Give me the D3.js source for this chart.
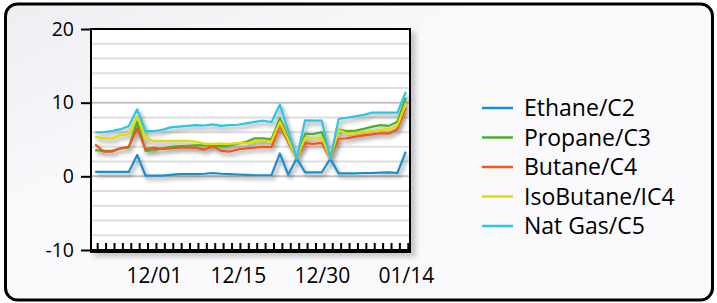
<!DOCTYPE html>
<html>
<head>
<meta charset="utf-8">
<style>
  body { margin: 0; background: #fff; }
  text { font-family: "Open Sans", sans-serif; fill: #000; }
</style>
</head>
<body>
<div id="chart"></div>
<script src="https://d3js.org/d3.v7.min.js"></script>
<script>
// trading days shown on the x axis
const dates = ["11/19","11/20","11/21","11/24","11/25","11/26","11/28","12/01","12/02","12/03",
  "12/04","12/05","12/08","12/09","12/10","12/11","12/12","12/15","12/16","12/17",
  "12/18","12/19","12/22","12/23","12/24","12/26","12/29","12/30","12/31","01/02",
  "01/05","01/06","01/07","01/08","01/09","01/12","01/13","01/14"];
const tickLabels = ["12/01", "12/15", "12/30", "01/14"];
const yTicks = [-10, 0, 10, 20];

const seriesNames = ["Ethane/C2", "Propane/C3", "Butane/C4", "IsoButane/IC4", "Nat Gas/C5"];
const seriesColors = ["#1b8ecb", "#4eae2c", "#f0561e", "#dede00", "#2ac6e4"];

const ethane = [0.6,0.6,0.6,0.6,0.6,2.9,0.1,0.1,0.1,0.2,0.3,0.3,0.3,0.35,0.45,0.35,0.3,0.25,0.2,0.15,
  0.15,0.15,3.1,0.2,2.45,0.55,0.55,0.55,2.4,0.4,0.4,0.4,0.45,0.45,0.5,0.55,0.45,3.35];
const propane = [3.55,3.45,3.45,3.8,3.9,7.4,3.45,3.55,3.8,4.0,4.1,4.15,4.2,4.25,4.1,4.1,4.2,4.45,4.7,5.15,
  5.15,5.05,7.9,5.1,2.45,5.75,5.75,6.0,2.4,6.35,6.15,6.2,6.45,6.75,6.95,6.85,7.4,10.7];
const butane = [4.35,3.35,3.35,3.8,4.0,6.5,3.7,3.9,3.7,3.8,3.9,3.9,3.9,3.6,4.1,3.45,3.35,3.65,3.8,3.9,
  4.0,3.95,6.9,4.6,2.45,4.5,4.4,4.55,2.4,5.1,5.15,5.4,5.55,5.7,5.85,5.8,6.4,9.3];
const isobutane = [5.4,5.15,5.15,5.6,5.7,8.1,5.15,4.8,4.8,4.8,4.8,4.8,4.7,4.4,4.4,4.45,4.4,4.5,4.5,4.7,
  4.85,4.75,7.4,4.9,2.45,5.2,5.15,5.3,2.4,6.3,5.8,5.9,6.05,6.15,6.3,6.4,6.9,9.9];
const natgas = [5.95,6.0,6.15,6.4,6.8,9.1,6.15,6.15,6.3,6.65,6.75,6.85,6.95,6.9,7.05,6.85,6.95,7.0,7.2,7.4,
  7.55,7.35,9.75,6.2,2.45,7.6,7.55,7.55,2.4,7.8,7.95,8.15,8.35,8.65,8.65,8.65,8.65,11.45];

const allSeries = [ethane, propane, butane, isobutane, natgas];

const W = 717, H = 303;
const plot = {left: 91, top: 29, right: 410, bottom: 250};

const svg = d3.select("#chart").append("svg").attr("width", W).attr("height", H);
const defs = svg.append("defs");

const bg = defs.append("linearGradient").attr("id", "bg")
  .attr("x1", 0).attr("y1", 0).attr("x2", 1).attr("y2", 1);
bg.append("stop").attr("offset", "0%").attr("stop-color", "#eeeef2");
bg.append("stop").attr("offset", "35%").attr("stop-color", "#f9f9fc");
bg.append("stop").attr("offset", "100%").attr("stop-color", "#fafafd");

const boxShadow = defs.append("filter").attr("id", "boxShadow")
  .attr("x", "-10%").attr("y", "-10%").attr("width", "130%").attr("height", "130%");
boxShadow.append("feGaussianBlur").attr("stdDeviation", 2.5);

const lineShadow = defs.append("filter").attr("id", "lineShadow")
  .attr("x", "-10%").attr("y", "-20%").attr("width", "130%").attr("height", "150%");
lineShadow.append("feGaussianBlur").attr("in", "SourceAlpha").attr("stdDeviation", 2.2).attr("result", "b");
lineShadow.append("feOffset").attr("in", "b").attr("dx", 2).attr("dy", 3).attr("result", "o");
lineShadow.append("feComponentTransfer").attr("in", "o").attr("result", "s")
  .append("feFuncA").attr("type", "linear").attr("slope", 0.45);
const merge = lineShadow.append("feMerge");
merge.append("feMergeNode").attr("in", "s");
merge.append("feMergeNode").attr("in", "SourceGraphic");

// outer frame
svg.append("rect")
  .attr("x", 5.5).attr("y", 4).attr("width", 707).attr("height", 296)
  .attr("rx", 12).attr("ry", 12)
  .attr("fill", "url(#bg)").attr("stroke", "#000").attr("stroke-width", 3);

// scales
const x = d3.scalePoint().domain(dates).range([plot.left, plot.right]).padding(0.5);
const y = d3.scaleLinear().domain([-10, 20]).range([plot.bottom, plot.top]);

// plot box shadow + white area
svg.append("rect")
  .attr("x", plot.left + 3).attr("y", plot.top + 3)
  .attr("width", plot.right - plot.left + 3).attr("height", plot.bottom - plot.top + 4)
  .attr("fill", "#c8c8cc").attr("filter", "url(#boxShadow)");
svg.append("rect")
  .attr("x", plot.left).attr("y", plot.top)
  .attr("width", plot.right - plot.left).attr("height", plot.bottom - plot.top)
  .attr("fill", "#fff");

// grid lines every 2 units
const gridVals = d3.range(-8, 20, 2);
svg.append("g").selectAll("line").data(gridVals).join("line")
  .attr("x1", plot.left).attr("x2", plot.right)
  .attr("y1", d => y(d)).attr("y2", d => y(d))
  .attr("stroke", d => d % 10 === 0 ? "#c2c2c2" : "#dedede")
  .attr("stroke-width", 2);

// plot border
svg.append("rect")
  .attr("x", plot.left).attr("y", plot.top)
  .attr("width", plot.right - plot.left).attr("height", plot.bottom - plot.top)
  .attr("fill", "none").attr("stroke", "#000").attr("stroke-width", 2);
svg.append("line")
  .attr("x1", plot.left - 1).attr("x2", plot.right + 1)
  .attr("y1", plot.bottom + 1).attr("y2", plot.bottom + 1)
  .attr("stroke", "#000").attr("stroke-width", 4);

// y axis
const yAxis = svg.append("g").attr("transform", `translate(${plot.left},0)`)
  .call(d3.axisLeft(y).tickValues(yTicks).tickSize(10).tickPadding(7).tickFormat(d => String(d)));
yAxis.select(".domain").remove();
yAxis.selectAll(".tick line").attr("stroke", "#000").attr("stroke-width", 2);
yAxis.selectAll(".tick text").attr("font-size", 19.5).attr("font-family", "Open Sans").attr("fill", "#000");

// x axis: small inner ticks on every day, labels every 10th day
const xAxis = svg.append("g").attr("transform", `translate(0,${plot.bottom - 1})`)
  .call(d3.axisBottom(x).tickSize(-6).tickPadding(19)
    .tickFormat(d => tickLabels.includes(d) ? d : ""));
xAxis.select(".domain").remove();
xAxis.selectAll(".tick line").attr("stroke", "#000").attr("stroke-width", 2)
  .attr("transform", "translate(2,0)");
xAxis.selectAll(".tick text").attr("font-size", 21).attr("font-family", "Open Sans")
  .attr("fill", "#000").attr("dy", "0.71em");

// series lines
const line = d3.line().x((d, i) => x(dates[i])).y(d => y(d));
svg.append("g").attr("filter", "url(#lineShadow)")
  .selectAll("path").data(allSeries).join("path")
  .attr("d", line)
  .attr("fill", "none")
  .attr("stroke", (d, i) => seriesColors[i])
  .attr("stroke-width", 2.2)
  .attr("stroke-linejoin", "round");

// legend
const legend = svg.append("g").attr("transform", "translate(482,108)");
const items = legend.selectAll("g").data(seriesNames).join("g")
  .attr("transform", (d, i) => `translate(0,${i * 29.5})`);
items.append("line").attr("x1", 0).attr("x2", 31)
  .attr("stroke", (d, i) => seriesColors[i]).attr("stroke-width", 2.5);
items.append("text").attr("x", 42).attr("dy", "0.35em")
  .attr("font-size", 23).text(d => d);
</script>
</body>
</html>
